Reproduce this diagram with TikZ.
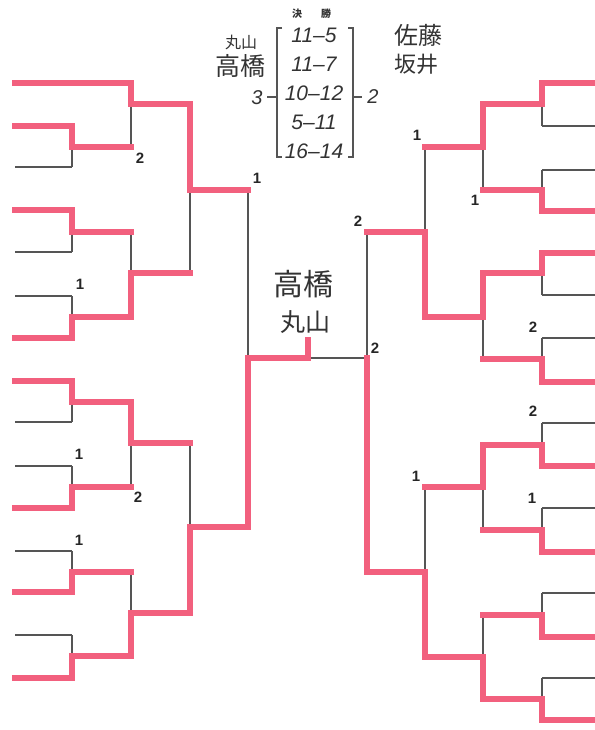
\documentclass[tikz,border=0pt]{standalone}
\usepackage{fontspec}
\setsansfont{Liberation Sans}
\newfontfamily\jpfont{Noto Sans CJK JP}
\usetikzlibrary{positioning}
\definecolor{winpink}{HTML}{F2607E}
\definecolor{losegray}{HTML}{555555}

\begin{document}
\begin{tikzpicture}[
  x=1pt, y=-1pt,
  win/.style={draw=winpink, line width=5.3pt, line cap=rect},
  lose/.style={draw=losegray, line width=1.6pt},
  pts/.style={font=\fontsize{15}{15}\selectfont\sffamily\bfseries,
    text=black!85, inner sep=0pt},
  hand/.style={font=\jpfont, text=black!80, inner sep=0pt}
]
  \useasboundingbox (0,0) rectangle (594,730);

  % Losing lines first so the winning lines cover the joints
  \foreach \y in {167,252,296,422,466,551,635}
    \draw[lose] (15,\y) -- (72,\y);
  \foreach \y in {126,170,295,338,423,508,593,678}
    \draw[lose] (542,\y) -- (596,\y);
  % x/xout/ywin/ylose/ymid
  \foreach \x/\xo/\yw/\yl/\ym in {
      72/131/126/167/147, 72/131/210/252/232, 72/131/338/296/317,
      72/131/381/422/402, 72/131/508/466/487, 72/131/592/551/572,
      72/131/678/635/656,
      131/190/83/147/104, 131/190/317/232/273, 131/190/402/487/443,
      131/190/656/572/613,
      190/248/104/273/190, 190/248/613/443/527,
      542/483/83/126/104, 542/483/211/170/190, 542/483/253/295/273,
      542/483/382/338/359, 542/483/466/423/445, 542/483/552/508/530,
      542/483/637/593/615, 542/483/720/678/699,
      483/425/104/190/147, 483/425/273/359/317, 483/425/445/530/487,
      483/425/699/615/657,
      425/367/317/147/232, 425/367/657/487/572} {
    \draw[lose] (\x,\yl) -- (\x,\ym);
  }

  % Final
  \draw[lose] (248,190) -- (248,358) -- (367,358) -- (367,232);

  % Winning lines
  \draw[win] (15,83) -- (131,83);
  \foreach \y in {126,210,338,381,508,592,678}
    \draw[win] (15,\y) -- (72,\y);
  \foreach \y in {83,211,253,382,466,552,637,720}
    \draw[win] (542,\y) -- (596,\y);
  \foreach \x/\xo/\yw/\yl/\ym in {
      72/131/126/167/147, 72/131/210/252/232, 72/131/338/296/317,
      72/131/381/422/402, 72/131/508/466/487, 72/131/592/551/572,
      72/131/678/635/656,
      131/190/83/147/104, 131/190/317/232/273, 131/190/402/487/443,
      131/190/656/572/613,
      190/248/104/273/190, 190/248/613/443/527,
      542/483/83/126/104, 542/483/211/170/190, 542/483/253/295/273,
      542/483/382/338/359, 542/483/466/423/445, 542/483/552/508/530,
      542/483/637/593/615, 542/483/720/678/699,
      483/425/104/190/147, 483/425/273/359/317, 483/425/445/530/487,
      483/425/699/615/657,
      425/367/317/147/232, 425/367/657/487/572} {
    \draw[win] (\x,\yw) -- (\x,\ym) -- (\xo,\ym);
  }
  \draw[win] (367,572) -- (367,358);
  \draw[win] (248,527) -- (248,358) -- (308,358) -- (308,340);

  % Game counts
  \node[pts] (la) at (140,158) {2};
  \node[pts] (lb) at (257,178) {1};
  \node[pts] (lc) at (80,284) {1};
  \node[pts] (ld) at (79,454) {1};
  \node[pts] (le) at (138,497) {2};
  \node[pts] (lf) at (79,540) {1};
  \node[pts] (ra) at (417,135) {1};
  \node[pts] (rb) at (475,200) {1};
  \node[pts] (rc) at (358,221) {2};
  \node[pts] (rd) at (375,348) {2};
  \node[pts] (re) at (533,327) {2};
  \node[pts] (rf) at (533,411) {2};
  \node[pts] (rg) at (416,476) {1};
  \node[pts] (rh) at (532,498) {1};

  % Final scores
  \node[hand, font=\jpfont\bfseries\fontsize{10}{10}\selectfont] (kes) at (297,14) {決};
  \node[hand, font=\jpfont\bfseries\fontsize{10}{10}\selectfont] (sho) at (326,14) {勝};
  \draw[lose, line width=1.3pt] (282,28) -- (277,28) -- (277,157) -- (282,157);
  \draw[lose, line width=1.3pt] (348,28) -- (353,28) -- (353,157) -- (348,157);
  \draw[lose, line width=1.3pt] (267,97) -- (277,97);
  \draw[lose, line width=1.3pt] (353,97) -- (362,97);
  \foreach \s [count=\i] in {11–5,11–7,10–12,5–11,16–14}
    \node[hand, font=\sffamily\itshape\fontsize{21}{21}\selectfont] (g\i)
      at (314,{6+29*\i}) {\s};
  \node[hand, font=\sffamily\itshape\fontsize{20}{20}\selectfont] (sl) at (257,98) {3};
  \node[hand, font=\sffamily\itshape\fontsize{20}{20}\selectfont] (sr) at (373,97) {2};

  % Pairs
  \node[hand, font=\jpfont\fontsize{16}{16}\selectfont] (pa) at (241,42) {丸山};
  \node[hand, font=\jpfont\fontsize{25}{25}\selectfont] (pb) at (240,66) {高橋};
  \node[hand, font=\jpfont\fontsize{24}{24}\selectfont] (pc) at (418,35) {佐藤};
  \node[hand, font=\jpfont\fontsize{22}{22}\selectfont] (pd) at (416,64) {坂井};
  \node[hand, font=\jpfont\fontsize{30}{30}\selectfont] (wa) at (303,284) {高橋};
  \node[hand, font=\jpfont\fontsize{25}{25}\selectfont] (wb) at (305,322) {丸山};
\end{tikzpicture}
\end{document}
